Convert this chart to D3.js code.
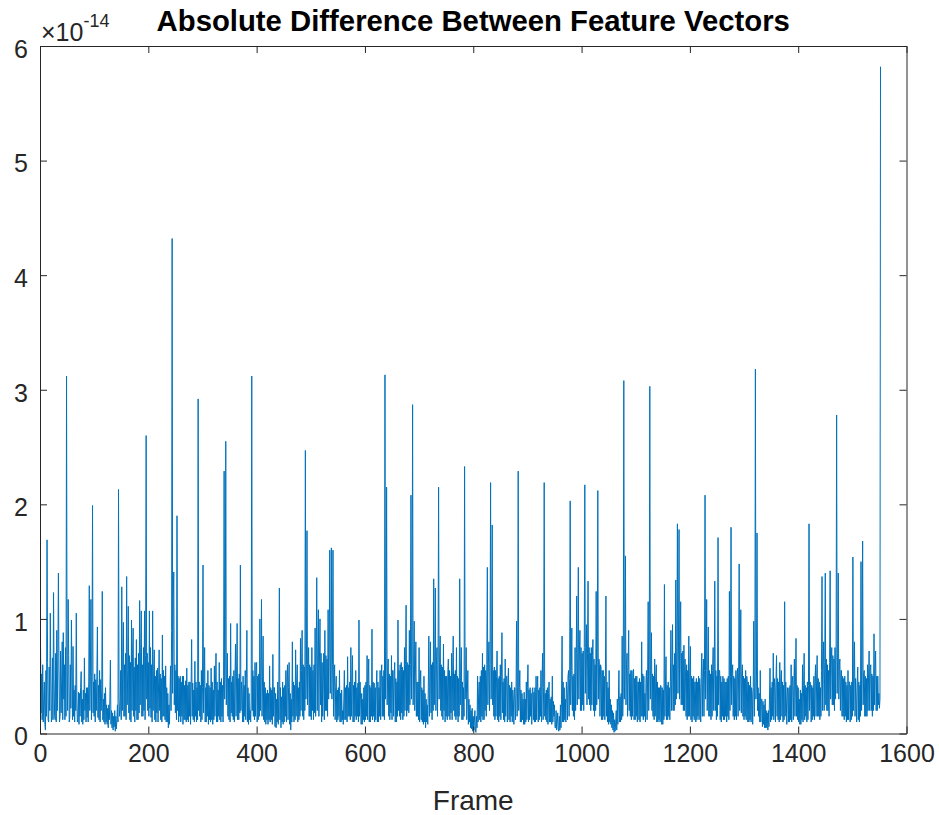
<!DOCTYPE html>
<html>
<head>
<meta charset="utf-8">
<script src="https://cdn.jsdelivr.net/npm/d3@7"></script>
<style>
  html, body { margin: 0; padding: 0; background: #ffffff; }
  svg { display: block; font-family: "Liberation Sans", Arial, Helvetica, sans-serif; }
</style>
</head>
<body>
<svg id="chart" width="939" height="815"></svg>
<script>
// ---- data: absolute difference per frame (units of 1e-14), frames 1..1552 ----
const firstFrame = 1;
const diffValues = [
  .75,.18,.52,.12,.6,.1,.3,.45,.08,.03,.55,.15,1.69,.62,.12,.1,.58,.2,1.05,.5,.1,.15,.66,.12,1.23,.48,.16,.12,.7,.1,
  .9,.2,.65,1.4,.58,.1,.15,.72,.18,.45,.8,.12,.88,.3,.6,.12,.75,.15,3.12,.55,.2,1.17,.68,.1,.14,.6,.22,.99,.5,.12,
  .76,.15,.38,.1,.42,.2,1.05,.3,.1,.12,.36,.08,.35,.15,.4,.54,.1,.3,.08,.38,.12,.66,.2,.35,.1,.4,.14,.4,.1,.45,
  1.29,.2,.5,1.17,.12,.55,1.99,.18,.45,.15,.52,.1,.47,.2,.5,.93,.14,.42,.12,.55,.1,.47,.2,.38,1.24,.12,.3,.1,.35,.08,
  .4,.1,.25,.08,.22,.05,.25,.12,.3,.64,.08,.2,.05,.18,.03,.15,.06,.2,.02,.15,.04,.12,.25,.1,2.13,.3,.15,.2,.55,.12,
  1.28,.2,.65,.97,.15,.6,.15,.7,.12,1.37,.25,.55,1.11,.18,.68,.12,.62,.1,.99,.2,.7,.92,.15,.58,.1,.66,.2,.82,.12,.6,
  .12,.7,.18,1.16,.25,.72,1.07,.15,.6,.15,.75,.2,1.07,.12,.68,2.6,.3,.7,.2,.62,.15,1.07,.22,.75,.14,.6,.1,1.07,.2,.55,
  .73,.12,.5,.1,.55,.18,.57,.1,.45,.73,.2,.52,.12,.48,.1,.86,.15,.55,.15,.5,.12,.59,.1,.4,.1,.35,.05,.25,.08,.3,
  .59,.2,.9,4.32,.35,1.2,1.41,.25,.6,.18,.55,.12,1.9,.2,.5,.1,.48,.15,.5,.1,.45,.15,.5,.08,.5,.12,.42,.12,.46,.1,
  .57,.12,.42,.1,.45,.15,.45,.08,.4,.82,.15,.44,.12,.38,.1,.63,.15,.45,.1,.4,.12,2.92,.2,.45,.15,.42,.1,.55,.12,.4,
  1.47,.18,.45,.75,.1,.4,.1,.44,.15,.55,.08,.42,.12,.4,.1,.57,.12,.45,.08,.38,.12,.59,.15,.42,.7,.1,.45,.1,.38,.15,
  .62,.12,.45,.1,.48,.15,.42,.1,.5,2.29,.3,.55,2.55,.25,.5,.7,.15,.48,.12,.5,.1,.96,.18,.45,.15,.5,.12,.55,.1,.46,
  .78,.15,.5,.96,.12,.48,.12,.52,.18,1.47,.2,.45,.35,.1,.5,.1,.42,.15,.55,.12,.48,.9,.1,.4,.08,.35,.12,.2,.1,.3,
  3.12,.2,.55,.15,.5,.12,.62,.15,.55,.62,.1,.5,.12,.52,.15,1.0,.2,.55,1.17,.15,.5,.85,.12,.45,.1,.4,.08,.35,.12,.38,
  .08,.35,.12,.59,.1,.4,.12,.38,.08,.69,.15,.4,.4,.06,.35,.05,.3,.1,.45,.08,.38,1.27,.12,.4,.05,.32,.1,.45,.08,.4,
  .1,.42,.15,.55,.1,.45,.6,.12,.4,.62,.08,.35,.03,.3,.1,.8,.15,.45,.1,.42,.12,.73,.15,.45,.6,.1,.4,.12,.45,.15,
  .83,.2,.55,.9,.15,.6,.12,.58,.2,2.47,.3,.6,1.77,.25,.55,.75,.15,.6,.15,.58,.12,.75,.2,.55,.12,.6,.18,.92,.15,.62,
  1.36,.2,.7,1.08,.15,.65,1.0,.25,.7,.1,.62,.15,.45,.7,.12,.9,.2,.68,.2,.65,.15,1.08,.3,.7,1.6,.35,.65,1.62,.3,.6,
  1.6,.15,.42,.6,.12,.4,.5,.1,.38,.12,.4,.15,.55,.1,.35,.1,.38,.12,.2,.08,.3,.55,.12,.4,.12,.42,.1,.67,.15,.4,
  .15,.45,.12,.75,.15,.45,.68,.1,.42,.1,.45,.15,.55,.12,.4,.15,.44,.1,.99,.15,.45,.3,.08,.35,.08,.3,.12,.4,.1,.42,
  .12,.45,.15,.68,.12,.45,.65,.1,.42,.1,.4,.15,.91,.12,.45,.15,.44,.1,.4,.12,.42,.55,.1,.45,.1,.4,.15,.55,.12,.48,
  .6,.15,.5,.15,.55,.12,3.13,.3,.6,2.15,.25,.55,.65,.15,.52,.12,.5,.18,.68,.12,.55,.55,.15,.5,.62,.1,.48,.1,.45,.15,
  .99,.2,.55,.15,.6,.12,.62,.18,.58,.12,.55,.15,.75,.2,.6,1.12,.15,.62,.2,.6,.18,.9,.25,.6,2.08,.3,.62,2.87,.25,.6,
  .98,.2,.5,.8,.15,.45,.15,.45,.12,.75,.1,.42,.55,.12,.4,.1,.38,.08,.5,.1,.35,.05,.3,.1,.25,.08,.4,.85,.15,.45,
  .8,.18,.6,.12,.62,.2,1.35,.25,.65,1.27,.2,.6,.75,.15,.62,2.15,.3,.65,.85,.2,.6,.15,.58,.12,.78,.2,.55,.1,.5,.15,
  .5,.12,.52,.65,.15,.55,.12,.5,.18,.7,.12,.55,.85,.2,.52,.15,.55,.12,.75,.15,.5,.1,.48,.15,1.35,.25,.55,.75,.12,.45,
  .12,.4,.15,2.33,.3,.45,.75,.12,.35,.55,.08,.3,.1,.25,.05,.2,.04,.22,.02,.15,.03,.1,.2,.02,.01,.15,.05,.5,.1,.35,
  .45,.12,.5,.1,.55,.15,.7,.12,.58,.12,.6,.2,.55,.15,.6,1.45,.25,.62,.8,.2,.6,2.19,.3,.6,1.82,.25,.55,.15,.58,.12,
  .55,.15,.5,.72,.12,.48,.1,.5,.15,.6,.12,.5,.88,.18,.45,.12,.48,.1,.65,.15,.5,.5,.1,.45,.57,.12,.42,.1,.4,.15,
  .45,.1,.38,.3,.08,.4,.4,.12,.35,.98,.15,.4,2.29,.2,.4,.55,.1,.38,.1,.35,.12,.3,.08,.36,.08,.3,.1,.45,.12,.4,
  .6,.1,.38,.12,.4,.15,.35,.08,.38,.4,.12,.36,.1,.4,.1,.5,.12,.4,.5,.1,.38,.12,.4,.15,.55,.1,.42,.7,.12,.4,
  2.19,.15,.35,.12,.38,.1,.4,.08,.35,.45,.1,.3,.1,.32,.08,.5,.1,.28,.15,.25,.05,.05,.2,.03,.1,.18,.04,.02,.15,.03,
  .25,.05,.3,.85,.1,.45,.1,.4,.12,.3,.1,.45,.35,.12,.5,.55,.15,.48,2.03,.25,.55,.92,.2,.5,.15,.52,.12,.75,.2,.55,
  1.2,.25,.7,1.45,.3,.72,.9,.2,.75,.2,.7,.25,.72,.2,.75,2.17,.35,.72,.95,.25,.7,1.33,.3,.75,.25,.7,.2,.75,.25,.68,
  .82,.2,.65,.15,.6,.2,1.24,.25,.62,2.12,.3,.65,.6,.15,.6,.58,.12,.55,.12,.55,.15,.5,.12,.5,1.2,.15,.45,.1,.4,.08,
  .55,.1,.3,.08,.25,.05,.2,.03,.18,.01,.12,.02,.1,.2,.03,.3,.08,.28,.55,.1,.32,.1,.35,.12,.85,.15,.38,3.08,.3,.55,
  1.55,.25,.6,.7,.15,.55,.9,.2,.52,.15,.55,.12,.55,.15,.5,.56,.12,.48,.12,.5,.15,.5,.1,.45,.45,.12,.48,.1,.45,.15,
  .8,.15,.52,.12,.5,.15,.35,.1,.48,.55,.12,.5,1.15,.2,.55,3.03,.3,.55,.88,.2,.52,.15,.5,.12,.65,.15,.5,.6,.1,.45,
  .1,.4,.12,.4,.1,.42,.4,.08,.4,.08,.38,.12,1.3,.15,.45,.67,.12,.42,.12,.45,.15,.4,.12,.45,.9,.2,.5,.95,.2,.6,
  .2,.7,.25,1.34,.3,.75,1.83,.35,.8,1.78,.3,.75,1.15,.25,.7,.25,.72,.2,.77,.2,.65,.5,.15,.6,.12,.55,.15,.85,.15,.55,
  .76,.12,.5,.1,.48,.15,.5,.12,.45,.45,.1,.48,.12,.45,.15,.5,.12,.48,.4,.1,.5,.7,.15,.52,.65,.15,.55,2.08,.3,.55,
  1.17,.2,.55,.93,.15,.55,.15,.52,.12,.6,.15,.55,.75,.2,.52,1.33,.2,.55,.12,.5,.15,1.71,.25,.55,.55,.12,.5,.1,.45,.15,
  .5,.12,.48,.12,.45,.15,.45,.1,.48,.15,.5,.12,1.24,.2,.5,1.8,.25,.52,.6,.15,.5,.12,.48,.15,.55,.12,.5,.57,.15,.52,
  1.48,.2,.55,1.08,.18,.52,.6,.15,.5,.12,.48,.15,.55,.12,.5,.45,.1,.45,.1,.42,.12,.5,.1,.4,.35,.08,.4,.98,.15,.45,
  3.18,.3,.5,1.75,.2,.4,.15,.35,.1,.55,.1,.3,.3,.06,.28,.08,.25,.05,.3,.05,.2,.05,.18,.03,.2,.06,.3,.57,.1,.4,
  .12,.45,.15,.7,.12,.48,.4,.1,.45,.68,.15,.48,.12,.45,.1,.62,.12,.48,.55,.15,.45,.1,.42,.12,1.15,.15,.45,.3,.08,.4,
  .35,.1,.4,.1,.42,.12,.6,.1,.45,.5,.12,.42,.65,.15,.45,.83,.15,.42,.12,.4,.1,.3,.08,.38,.08,.35,.12,.6,.1,.42,
  .7,.12,.42,.15,.4,.1,.45,.12,.42,1.83,.2,.45,.4,.1,.42,.12,.4,.15,.5,.12,.45,.6,.15,.45,.68,.15,.48,.15,.45,.12,
  .4,.15,.55,1.37,.2,.6,.8,.2,.62,1.4,.25,.65,.2,.6,.2,.55,.15,.62,1.42,.3,.65,.75,.25,.68,.25,.65,.2,.75,.3,.7,
  2.78,.35,.7,1.4,.3,.6,.65,.2,.55,.55,.15,.5,.15,.48,.12,.5,.15,.45,.1,.42,.12,.55,.12,.45,.45,.1,.42,.12,.45,.15,
  1.54,.2,.5,.8,.15,.48,.3,.1,.45,.58,.12,.45,.1,.42,.15,1.5,.2,.5,1.68,.25,.52,.55,.15,.5,.15,.48,.15,.6,.2,.52,
  .72,.2,.55,.6,.2,.52,.15,.5,.2,.87,.25,.55,.72,.2,.5,.2,.5,.25,.35,.22,.3,5.82
];
const xTicks = [0, 200, 400, 600, 800, 1000, 1200, 1400, 1600];
const yTicks = [0, 1, 2, 3, 4, 5, 6];
const titleText = "Absolute Difference Between Feature Vectors";
const xLabelText = "Frame";

const points = diffValues.map((v, i) => ({ frame: firstFrame + i, value: v }));

// ---- layout ----
const svg = d3.select("#chart");
const plotLeft = 40, plotRight = 906.5, plotTop = 46, plotBottom = 733.5;
const axisColor = "#262626";
const tickLen = 7;

const x = d3.scaleLinear().domain([0, 1600]).range([plotLeft, plotRight]);
const y = d3.scaleLinear().domain([0, 6]).range([plotBottom, plotTop]);

// data line
const line = d3.line().x(d => x(d.frame)).y(d => y(d.value));
svg.append("path")
  .datum(points)
  .attr("d", line)
  .attr("fill", "none")
  .attr("stroke", "#0072BD")
  .attr("stroke-width", 1)
  .attr("stroke-linejoin", "miter");

// axes (MATLAB-style: ticks inside, box on)
const xAxisB = d3.axisBottom(x).tickValues(xTicks).tickSizeInner(-tickLen).tickSizeOuter(0).tickPadding(11).tickFormat(d3.format("d"));
const xAxisT = d3.axisTop(x).tickValues(xTicks).tickSizeInner(-tickLen).tickSizeOuter(0).tickFormat("");
const yAxisL = d3.axisLeft(y).tickValues(yTicks).tickSizeInner(-tickLen).tickSizeOuter(0).tickPadding(12).tickFormat(d3.format("d"));
const yAxisR = d3.axisRight(y).tickValues(yTicks).tickSizeInner(-tickLen).tickSizeOuter(0).tickFormat("");

function styleAxis(g) {
  g.select(".domain").attr("stroke", axisColor).attr("stroke-width", 1);
  g.selectAll(".tick line").attr("stroke", axisColor).attr("stroke-width", 1);
  g.selectAll(".tick text").attr("fill", axisColor).attr("font-family", "Liberation Sans, Arial, sans-serif");
}

svg.append("g").attr("transform", `translate(0,${plotBottom})`).call(xAxisB).call(styleAxis)
  .selectAll(".tick text").attr("font-size", 25);
svg.append("g").attr("transform", `translate(0,${plotTop})`).call(xAxisT).call(styleAxis);
svg.append("g").attr("transform", `translate(${plotLeft},0)`).call(yAxisL).call(styleAxis)
  .selectAll(".tick text").attr("font-size", 25).attr("dy", "0.45em");
svg.append("g").attr("transform", `translate(${plotRight},0)`).call(yAxisR).call(styleAxis);

// title
svg.append("text")
  .attr("x", (plotLeft + plotRight) / 2)
  .attr("y", 31)
  .attr("text-anchor", "middle")
  .attr("font-size", 29.3)
  .attr("font-weight", "bold")
  .attr("fill", "#000")
  .text(titleText);

// x label
svg.append("text")
  .attr("x", (plotLeft + plotRight) / 2)
  .attr("y", 810)
  .attr("text-anchor", "middle")
  .attr("font-size", 28)
  .attr("fill", axisColor)
  .text(xLabelText);

// exponent label
const expo = svg.append("text")
  .attr("x", 41)
  .attr("y", 41)
  .attr("fill", axisColor)
  .attr("font-size", 25);
expo.append("tspan").text("\u00D710");
expo.append("tspan").attr("font-size", 18).attr("dy", -14).text("-14");
</script>
</body>
</html>
